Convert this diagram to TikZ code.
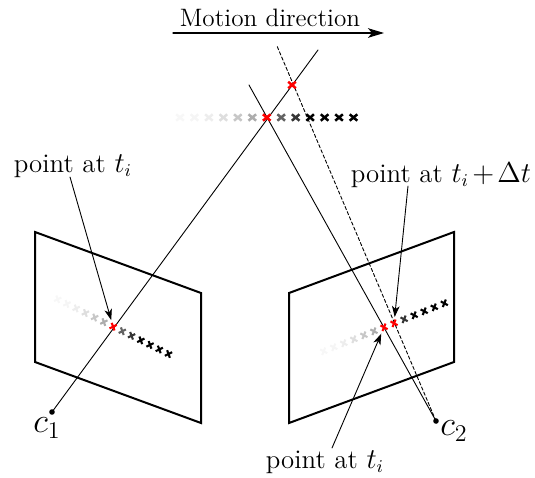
\documentclass[tikz,border=0pt]{standalone}
\usepackage{tikz}
\usetikzlibrary{arrows.meta,calc,shapes.misc}
\tikzset{
    lab/.style={
        font=\fontsize{13.4}{16}\selectfont, anchor=base, inner sep=0pt
    },
    motionlab/.style={
        font=\fontsize{12.6}{15}\selectfont, anchor=base, inner sep=0pt
    },
    camlab/.style={
        font=\fontsize{18}{22}\selectfont
    },
    plane/.style={
        line width=1pt, line join=miter
    },
    ray/.style={
        line width=0.45pt
    },
    pointer/.style={
        -{Stealth[length=5.5pt,width=3.8pt,inset=1.5pt]}, line width=0.45pt, shorten >=1.5pt
    },
    mark x/.style={
        cross out, draw=#1, line width=1.25pt, minimum width=3.8pt, minimum height=3.2pt,
        inner sep=0pt, outer sep=0pt, line cap=butt
    },
    small x/.style={
        line width=1.05pt, minimum width=2.7pt, minimum height=3pt
    }
}

% row of 13 crosses between two coordinates, #4 holds extra keys, #5 the red ones
\newcommand{\markrow}[5]{
  \foreach \i in {0,...,12} {
    \pgfmathtruncatemacro{\shade}{min(100,3+97*(\i/9)^2)}
    \def\col{black!\shade}
    \foreach \r in {#5} {
      \ifnum\r=\i \gdef\rowred{1}\fi
    }
    \ifdefined\rowred \def\col{red}\global\let\rowred\undefined\fi
    \node[mark x=\col, #4] (#3\i) at ($(#1)!\i/12!(#2)$) {};
  }
}

\begin{document}
\begin{tikzpicture}[x=0.5pt,y=-0.5pt, line cap=round]

\useasboundingbox (0,0) rectangle (535,477);

% image planes
\draw[plane] (35,232) -- (201,293) -- (201,423) -- (35,362) -- cycle;
\draw[plane] (289,293) -- (454,232) -- (454,362) -- (289,423) -- cycle;

% motion
\coordinate (motionL) at (173,33);
\coordinate (motionR) at (384,33);
\draw[-{Stealth[length=8pt,width=4.8pt,inset=2pt]}, line width=0.6pt] (motionL) -- (motionR);
\node[motionlab] (motion) at (270,26) {Motion direction};

% camera centres
\fill (52,412) coordinate (camA) circle (2.8);
\fill (436,421) coordinate (camB) circle (2.8);
\node[camlab] (camAlab) at (47,428) {$c_1$};
\node[camlab] (camBlab) at (454,431) {$c_2$};

% rays
\coordinate (rayAend) at (318,50);
\coordinate (rayBend) at (249,85);
\coordinate (rayCend) at (277,46);
\draw[ray] (camA) -- (rayAend);
\draw[ray] (camB) -- (rayBend);
\draw[ray, dash pattern=on 1.7pt off 1.1pt] (camB) -- (rayCend);

% crosses
\coordinate (topL) at (180,117.5);
\coordinate (topR) at (353.5,117.5);
\coordinate (leftL) at (57.7,299.3);
\coordinate (leftR) at (168.5,354);
\coordinate (rightL) at (323.7,351.3);
\coordinate (rightR) at (444.3,303.3);
\markrow{topL}{topR}{top}{rotate=0}{6}
\markrow{leftL}{leftR}{left}{small x, rotate=-22}{6}
\markrow{rightL}{rightR}{right}{small x, rotate=20}{6,7}
\node[mark x=red] (topB) at (292,85) {};

% labels
\node[lab] (ptA) at (73,172) {point at $t_i$};
\node[lab] (ptB) at (441,182) {point at $t_i\mskip-2mu+\mskip-2mu\Delta t$};
\node[lab] (ptC) at (325,468) {point at $t_i$};
\coordinate (ptAs) at (70,177);
\coordinate (ptBs) at (408,186);
\coordinate (ptCn) at (332,448);
\draw[pointer] (ptAs) -- (left6);
\draw[pointer] (ptBs) -- (right7);
\draw[pointer] (ptCn) -- (right6);

\end{tikzpicture}
\end{document}
